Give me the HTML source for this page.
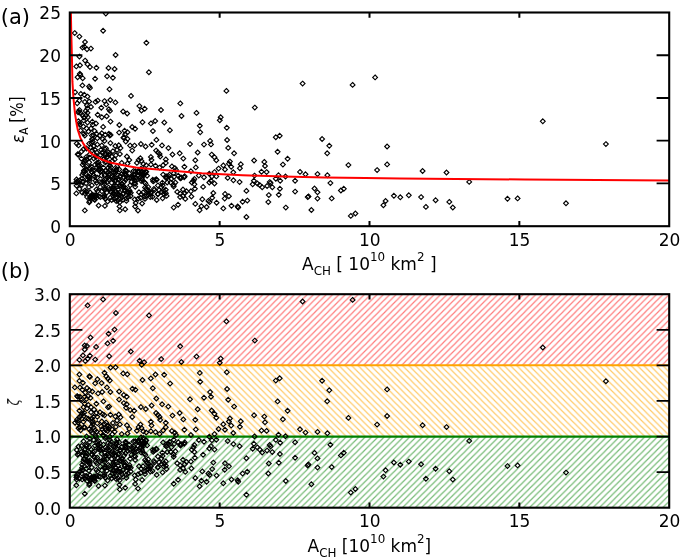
<!DOCTYPE html>
<html><head><meta charset="utf-8"><title>Figure</title><style>html,body{margin:0;padding:0;background:#fff}</style></head><body>
<svg width="685" height="559" viewBox="0 0 685 559" style="display:block;font-family:'DejaVu Sans', 'Liberation Sans', sans-serif;filter:blur(0.35px)">
<defs>
<pattern id="hr" width="6.35" height="6.35" patternUnits="userSpaceOnUse" x="4.85" y="0"><path d="M-1,7.35 L7.35,-1 M-1,1 L1,-1 M5.35,7.35 L7.35,5.35" stroke="#ff0000" stroke-opacity="0.52" stroke-width="1.15" fill="none"/></pattern>
<pattern id="hg" width="6.35" height="6.35" patternUnits="userSpaceOnUse" x="2.1" y="0"><path d="M-1,7.35 L7.35,-1 M-1,1 L1,-1 M5.35,7.35 L7.35,5.35" stroke="#008000" stroke-opacity="0.55" stroke-width="1.15" fill="none"/></pattern>
<pattern id="ho" width="6.35" height="6.35" patternUnits="userSpaceOnUse" x="5.14" y="0"><path d="M-1,-1 L7.35,7.35 M5.35,-1 L7.35,1 M-1,5.35 L1,7.35" stroke="#ffa500" stroke-opacity="0.6" stroke-width="1.15" fill="none"/></pattern>
<clipPath id="c1"><rect x="69.8" y="12.5" width="599.4" height="213.7"/></clipPath>
<clipPath id="c2"><rect x="69.8" y="294.2" width="599.4" height="213.5"/></clipPath>
<path id="d" d="M0,-2.4 L2.4,0 L0,2.4 L-2.4,0 Z" fill="none" stroke="#000" stroke-width="1.15" stroke-linejoin="miter"/>
</defs>
<rect width="685" height="559" fill="#fff"/>
<rect x="69.8" y="294.2" width="599.4000000000001" height="71.17" fill="url(#hr)"/>
<rect x="69.8" y="365.37" width="599.4000000000001" height="71.17" fill="url(#ho)"/>
<rect x="69.8" y="436.53" width="599.4000000000001" height="71.17" fill="url(#hg)"/>
<line x1="69.8" x2="669.2" y1="365.37" y2="365.37" stroke="#ffa500" stroke-width="2"/>
<line x1="69.8" x2="669.2" y1="436.53" y2="436.53" stroke="#008000" stroke-width="2.2"/>
<g clip-path="url(#c1)">
<use href="#d" x="542.8" y="121.3"/>
<use href="#d" x="605.9" y="144.1"/>
<use href="#d" x="446.5" y="172.5"/>
<use href="#d" x="469.2" y="181.9"/>
<use href="#d" x="435.6" y="200.2"/>
<use href="#d" x="449.3" y="201.9"/>
<use href="#d" x="452.8" y="207.5"/>
<use href="#d" x="507.5" y="198.8"/>
<use href="#d" x="517.6" y="198.4"/>
<use href="#d" x="566.0" y="203.3"/>
<use href="#d" x="302.6" y="83.6"/>
<use href="#d" x="352.6" y="84.9"/>
<use href="#d" x="375.1" y="77.4"/>
<use href="#d" x="322.1" y="139.0"/>
<use href="#d" x="329.3" y="145.8"/>
<use href="#d" x="327.2" y="153.3"/>
<use href="#d" x="387.1" y="146.5"/>
<use href="#d" x="387.1" y="164.4"/>
<use href="#d" x="348.4" y="165.1"/>
<use href="#d" x="377.1" y="170.1"/>
<use href="#d" x="422.6" y="171.0"/>
<use href="#d" x="300.0" y="171.9"/>
<use href="#d" x="305.5" y="174.3"/>
<use href="#d" x="317.5" y="174.1"/>
<use href="#d" x="327.4" y="175.2"/>
<use href="#d" x="330.4" y="183.1"/>
<use href="#d" x="314.5" y="188.5"/>
<use href="#d" x="317.5" y="192.3"/>
<use href="#d" x="340.9" y="190.5"/>
<use href="#d" x="343.8" y="188.8"/>
<use href="#d" x="307.7" y="197.1"/>
<use href="#d" x="308.5" y="196.4"/>
<use href="#d" x="317.5" y="198.6"/>
<use href="#d" x="331.7" y="198.4"/>
<use href="#d" x="311.4" y="210.0"/>
<use href="#d" x="350.8" y="215.9"/>
<use href="#d" x="355.4" y="213.5"/>
<use href="#d" x="385.6" y="201.0"/>
<use href="#d" x="383.4" y="205.2"/>
<use href="#d" x="393.9" y="195.8"/>
<use href="#d" x="400.3" y="197.3"/>
<use href="#d" x="408.8" y="195.3"/>
<use href="#d" x="421.1" y="197.1"/>
<use href="#d" x="425.9" y="206.9"/>
<use href="#d" x="226.4" y="90.9"/>
<use href="#d" x="254.8" y="107.6"/>
<use href="#d" x="196.5" y="112.9"/>
<use href="#d" x="219.8" y="120.2"/>
<use href="#d" x="220.7" y="117.3"/>
<use href="#d" x="199.8" y="125.7"/>
<use href="#d" x="226.8" y="127.8"/>
<use href="#d" x="200.2" y="132.3"/>
<use href="#d" x="275.8" y="137.2"/>
<use href="#d" x="279.7" y="135.8"/>
<use href="#d" x="227.1" y="140.0"/>
<use href="#d" x="210.1" y="140.9"/>
<use href="#d" x="211.0" y="144.4"/>
<use href="#d" x="204.0" y="144.6"/>
<use href="#d" x="190.0" y="144.1"/>
<use href="#d" x="228.2" y="147.9"/>
<use href="#d" x="277.6" y="151.8"/>
<use href="#d" x="197.7" y="152.5"/>
<use href="#d" x="234.1" y="153.3"/>
<use href="#d" x="211.7" y="154.6"/>
<use href="#d" x="214.5" y="157.2"/>
<use href="#d" x="216.3" y="160.2"/>
<use href="#d" x="287.6" y="158.8"/>
<use href="#d" x="195.3" y="160.2"/>
<use href="#d" x="254.1" y="160.5"/>
<use href="#d" x="264.3" y="161.9"/>
<use href="#d" x="229.9" y="161.6"/>
<use href="#d" x="228.9" y="163.7"/>
<use href="#d" x="282.9" y="164.6"/>
<use href="#d" x="240.8" y="164.2"/>
<use href="#d" x="265.0" y="166.0"/>
<use href="#d" x="223.3" y="165.4"/>
<use href="#d" x="231.2" y="166.8"/>
<use href="#d" x="239.9" y="168.2"/>
<use href="#d" x="195.8" y="167.4"/>
<use href="#d" x="218.6" y="168.6"/>
<use href="#d" x="225.0" y="169.5"/>
<use href="#d" x="261.5" y="171.7"/>
<use href="#d" x="266.6" y="172.1"/>
<use href="#d" x="233.3" y="172.3"/>
<use href="#d" x="214.5" y="172.1"/>
<use href="#d" x="278.5" y="175.2"/>
<use href="#d" x="285.5" y="176.5"/>
<use href="#d" x="254.5" y="175.6"/>
<use href="#d" x="295.1" y="180.8"/>
<use href="#d" x="280.2" y="180.8"/>
<use href="#d" x="275.8" y="178.7"/>
<use href="#d" x="227.7" y="177.9"/>
<use href="#d" x="233.4" y="180.3"/>
<use href="#d" x="239.6" y="182.1"/>
<use href="#d" x="253.9" y="180.8"/>
<use href="#d" x="257.4" y="183.5"/>
<use href="#d" x="269.7" y="182.1"/>
<use href="#d" x="270.6" y="183.1"/>
<use href="#d" x="198.8" y="175.6"/>
<use href="#d" x="204.0" y="177.3"/>
<use href="#d" x="209.3" y="173.8"/>
<use href="#d" x="211.9" y="176.5"/>
<use href="#d" x="211.0" y="180.8"/>
<use href="#d" x="193.5" y="180.8"/>
<use href="#d" x="214.5" y="183.5"/>
<use href="#d" x="190.9" y="171.2"/>
<use href="#d" x="252.7" y="184.3"/>
<use href="#d" x="259.7" y="185.1"/>
<use href="#d" x="262.2" y="187.2"/>
<use href="#d" x="267.1" y="186.0"/>
<use href="#d" x="272.3" y="187.2"/>
<use href="#d" x="279.9" y="188.7"/>
<use href="#d" x="295.1" y="191.6"/>
<use href="#d" x="246.4" y="190.9"/>
<use href="#d" x="268.8" y="195.1"/>
<use href="#d" x="278.8" y="194.8"/>
<use href="#d" x="268.3" y="202.1"/>
<use href="#d" x="247.3" y="200.6"/>
<use href="#d" x="242.6" y="201.8"/>
<use href="#d" x="237.7" y="206.5"/>
<use href="#d" x="238.2" y="207.6"/>
<use href="#d" x="231.5" y="205.8"/>
<use href="#d" x="223.3" y="208.4"/>
<use href="#d" x="246.4" y="217.0"/>
<use href="#d" x="285.8" y="207.6"/>
<use href="#d" x="225.0" y="193.9"/>
<use href="#d" x="228.9" y="196.2"/>
<use href="#d" x="224.7" y="198.6"/>
<use href="#d" x="213.3" y="193.0"/>
<use href="#d" x="212.2" y="197.8"/>
<use href="#d" x="216.6" y="202.7"/>
<use href="#d" x="208.4" y="200.9"/>
<use href="#d" x="209.6" y="202.1"/>
<use href="#d" x="206.6" y="207.0"/>
<use href="#d" x="202.3" y="199.2"/>
<use href="#d" x="201.4" y="206.2"/>
<use href="#d" x="199.6" y="210.2"/>
<use href="#d" x="195.3" y="203.9"/>
<use href="#d" x="203.1" y="186.9"/>
<use href="#d" x="209.3" y="182.5"/>
<use href="#d" x="216.3" y="176.4"/>
<use href="#d" x="194.4" y="179.0"/>
<use href="#d" x="191.8" y="182.5"/>
<use href="#d" x="194.4" y="184.3"/>
<use href="#d" x="194.9" y="188.7"/>
<use href="#d" x="190.9" y="191.3"/>
<use href="#d" x="191.4" y="196.5"/>
<use href="#d" x="146.4" y="42.8"/>
<use href="#d" x="115.6" y="55.0"/>
<use href="#d" x="114.6" y="69.0"/>
<use href="#d" x="148.9" y="72.2"/>
<use href="#d" x="112.9" y="77.8"/>
<use href="#d" x="109.5" y="89.2"/>
<use href="#d" x="131.0" y="95.9"/>
<use href="#d" x="110.3" y="100.0"/>
<use href="#d" x="115.4" y="102.4"/>
<use href="#d" x="180.3" y="103.4"/>
<use href="#d" x="139.4" y="106.1"/>
<use href="#d" x="144.7" y="108.8"/>
<use href="#d" x="141.5" y="110.5"/>
<use href="#d" x="161.0" y="110.0"/>
<use href="#d" x="123.1" y="111.5"/>
<use href="#d" x="127.2" y="113.5"/>
<use href="#d" x="110.0" y="110.9"/>
<use href="#d" x="181.5" y="116.0"/>
<use href="#d" x="110.5" y="121.6"/>
<use href="#d" x="142.5" y="122.2"/>
<use href="#d" x="155.2" y="121.0"/>
<use href="#d" x="150.9" y="123.4"/>
<use href="#d" x="164.3" y="122.5"/>
<use href="#d" x="119.3" y="125.0"/>
<use href="#d" x="132.2" y="127.0"/>
<use href="#d" x="135.1" y="128.8"/>
<use href="#d" x="152.9" y="131.1"/>
<use href="#d" x="169.9" y="130.2"/>
<use href="#d" x="124.6" y="130.8"/>
<use href="#d" x="127.5" y="132.2"/>
<use href="#d" x="119.1" y="132.6"/>
<use href="#d" x="125.2" y="134.3"/>
<use href="#d" x="110.6" y="134.9"/>
<use href="#d" x="123.4" y="137.8"/>
<use href="#d" x="127.5" y="138.9"/>
<use href="#d" x="125.8" y="141.6"/>
<use href="#d" x="156.4" y="139.9"/>
<use href="#d" x="140.9" y="144.0"/>
<use href="#d" x="145.6" y="146.5"/>
<use href="#d" x="151.7" y="144.8"/>
<use href="#d" x="162.0" y="145.4"/>
<use href="#d" x="134.5" y="145.6"/>
<use href="#d" x="130.1" y="145.6"/>
<use href="#d" x="132.2" y="150.6"/>
<use href="#d" x="168.4" y="148.1"/>
<use href="#d" x="110.4" y="143.1"/>
<use href="#d" x="115.3" y="146.0"/>
<use href="#d" x="118.8" y="145.3"/>
<use href="#d" x="120.5" y="148.1"/>
<use href="#d" x="117.0" y="150.0"/>
<use href="#d" x="112.9" y="151.2"/>
<use href="#d" x="119.9" y="154.1"/>
<use href="#d" x="115.8" y="155.3"/>
<use href="#d" x="156.1" y="150.6"/>
<use href="#d" x="157.9" y="152.4"/>
<use href="#d" x="159.6" y="154.1"/>
<use href="#d" x="160.2" y="156.5"/>
<use href="#d" x="172.5" y="154.5"/>
<use href="#d" x="179.7" y="153.3"/>
<use href="#d" x="183.3" y="158.6"/>
<use href="#d" x="126.9" y="156.5"/>
<use href="#d" x="129.3" y="160.0"/>
<use href="#d" x="150.9" y="157.0"/>
<use href="#d" x="151.5" y="160.0"/>
<use href="#d" x="140.4" y="158.2"/>
<use href="#d" x="138.6" y="160.0"/>
<use href="#d" x="141.5" y="161.1"/>
<use href="#d" x="136.9" y="162.9"/>
<use href="#d" x="143.3" y="164.0"/>
<use href="#d" x="146.2" y="165.2"/>
<use href="#d" x="150.9" y="164.6"/>
<use href="#d" x="155.5" y="165.8"/>
<use href="#d" x="159.6" y="167.6"/>
<use href="#d" x="163.1" y="165.2"/>
<use href="#d" x="165.8" y="159.4"/>
<use href="#d" x="165.8" y="162.9"/>
<use href="#d" x="171.9" y="166.4"/>
<use href="#d" x="174.8" y="168.1"/>
<use href="#d" x="176.0" y="169.9"/>
<use href="#d" x="184.4" y="166.7"/>
<use href="#d" x="111.8" y="156.5"/>
<use href="#d" x="114.7" y="159.4"/>
<use href="#d" x="112.3" y="161.1"/>
<use href="#d" x="121.7" y="162.9"/>
<use href="#d" x="127.5" y="163.5"/>
<use href="#d" x="117.0" y="166.4"/>
<use href="#d" x="111.2" y="167.6"/>
<use href="#d" x="126.4" y="171.1"/>
<use href="#d" x="125.2" y="173.4"/>
<use href="#d" x="129.3" y="173.4"/>
<use href="#d" x="133.4" y="171.1"/>
<use href="#d" x="138.0" y="172.2"/>
<use href="#d" x="141.5" y="174.6"/>
<use href="#d" x="140.4" y="176.9"/>
<use href="#d" x="147.1" y="175.7"/>
<use href="#d" x="163.1" y="174.6"/>
<use href="#d" x="166.1" y="176.3"/>
<use href="#d" x="169.6" y="174.6"/>
<use href="#d" x="173.7" y="173.4"/>
<use href="#d" x="178.3" y="175.7"/>
<use href="#d" x="181.2" y="177.5"/>
<use href="#d" x="184.7" y="176.3"/>
<use href="#d" x="117.0" y="174.6"/>
<use href="#d" x="113.5" y="172.2"/>
<use href="#d" x="119.9" y="176.9"/>
<use href="#d" x="112.3" y="176.9"/>
<use href="#d" x="127.5" y="178.1"/>
<use href="#d" x="166.1" y="177.8"/>
<use href="#d" x="168.4" y="176.1"/>
<use href="#d" x="171.3" y="179.0"/>
<use href="#d" x="174.2" y="176.7"/>
<use href="#d" x="180.1" y="177.8"/>
<use href="#d" x="180.6" y="178.4"/>
<use href="#d" x="184.2" y="177.3"/>
<use href="#d" x="167.2" y="182.5"/>
<use href="#d" x="170.7" y="182.5"/>
<use href="#d" x="173.7" y="184.9"/>
<use href="#d" x="175.4" y="182.5"/>
<use href="#d" x="173.7" y="186.6"/>
<use href="#d" x="177.2" y="191.9"/>
<use href="#d" x="180.1" y="193.6"/>
<use href="#d" x="183.0" y="189.5"/>
<use href="#d" x="184.7" y="193.0"/>
<use href="#d" x="180.1" y="197.1"/>
<use href="#d" x="183.0" y="196.0"/>
<use href="#d" x="185.3" y="198.9"/>
<use href="#d" x="186.5" y="191.3"/>
<use href="#d" x="178.1" y="204.7"/>
<use href="#d" x="173.7" y="207.6"/>
<use href="#d" x="119.5" y="206.4"/>
<use href="#d" x="119.8" y="210.4"/>
<use href="#d" x="125.2" y="209.2"/>
<use href="#d" x="135.1" y="206.5"/>
<use href="#d" x="138.0" y="210.5"/>
<use href="#d" x="135.7" y="203.0"/>
<use href="#d" x="142.1" y="203.5"/>
<use href="#d" x="156.7" y="200.0"/>
<use href="#d" x="162.6" y="198.3"/>
<use href="#d" x="166.6" y="195.9"/>
<use href="#d" x="163.7" y="193.6"/>
<use href="#d" x="161.4" y="187.2"/>
<use href="#d" x="157.9" y="185.4"/>
<use href="#d" x="153.2" y="181.4"/>
<use href="#d" x="150.9" y="193.0"/>
<use href="#d" x="150.3" y="197.1"/>
<use href="#d" x="154.4" y="190.1"/>
<use href="#d" x="157.9" y="194.2"/>
<use href="#d" x="159.1" y="190.1"/>
<use href="#d" x="145.0" y="196.5"/>
<use href="#d" x="145.0" y="198.9"/>
<use href="#d" x="105.8" y="13.6"/>
<use href="#d" x="103.1" y="30.7"/>
<use href="#d" x="74.7" y="33.1"/>
<use href="#d" x="79.4" y="36.6"/>
<use href="#d" x="85.0" y="42.0"/>
<use href="#d" x="82.5" y="47.6"/>
<use href="#d" x="84.3" y="46.7"/>
<use href="#d" x="87.0" y="49.3"/>
<use href="#d" x="90.9" y="48.6"/>
<use href="#d" x="79.4" y="56.6"/>
<use href="#d" x="85.1" y="60.6"/>
<use href="#d" x="87.5" y="64.2"/>
<use href="#d" x="90.0" y="67.1"/>
<use href="#d" x="76.3" y="66.4"/>
<use href="#d" x="80.0" y="65.3"/>
<use href="#d" x="96.4" y="67.8"/>
<use href="#d" x="108.5" y="68.0"/>
<use href="#d" x="79.9" y="73.8"/>
<use href="#d" x="77.6" y="77.2"/>
<use href="#d" x="80.3" y="75.1"/>
<use href="#d" x="82.7" y="78.2"/>
<use href="#d" x="95.1" y="78.7"/>
<use href="#d" x="107.1" y="76.3"/>
<use href="#d" x="82.4" y="85.4"/>
<use href="#d" x="89.1" y="86.5"/>
<use href="#d" x="90.0" y="87.9"/>
<use href="#d" x="80.8" y="93.9"/>
<use href="#d" x="84.3" y="94.8"/>
<use href="#d" x="87.5" y="96.6"/>
<use href="#d" x="79.4" y="100.6"/>
<use href="#d" x="77.2" y="103.3"/>
<use href="#d" x="84.8" y="101.9"/>
<use href="#d" x="89.2" y="101.5"/>
<use href="#d" x="95.5" y="101.9"/>
<use href="#d" x="97.7" y="100.6"/>
<use href="#d" x="104.5" y="101.1"/>
<use href="#d" x="106.2" y="104.4"/>
<use href="#d" x="101.3" y="107.7"/>
<use href="#d" x="87.0" y="105.6"/>
<use href="#d" x="91.0" y="106.9"/>
<use href="#d" x="87.5" y="108.3"/>
<use href="#d" x="108.9" y="109.2"/>
<use href="#d" x="79.4" y="110.1"/>
<use href="#d" x="78.1" y="112.3"/>
<use href="#d" x="80.8" y="113.2"/>
<use href="#d" x="85.7" y="111.0"/>
<use href="#d" x="87.5" y="112.8"/>
<use href="#d" x="97.7" y="114.7"/>
<use href="#d" x="101.8" y="117.2"/>
<use href="#d" x="106.7" y="116.2"/>
<use href="#d" x="87.9" y="117.2"/>
<use href="#d" x="86.1" y="115.4"/>
<use href="#d" x="78.5" y="121.2"/>
<use href="#d" x="87.5" y="122.6"/>
<use href="#d" x="92.4" y="121.7"/>
<use href="#d" x="96.0" y="123.5"/>
<use href="#d" x="92.8" y="124.8"/>
<use href="#d" x="79.9" y="124.8"/>
<use href="#d" x="83.4" y="126.6"/>
<use href="#d" x="86.6" y="128.4"/>
<use href="#d" x="91.0" y="128.4"/>
<use href="#d" x="103.1" y="126.9"/>
<use href="#d" x="94.6" y="131.1"/>
<use href="#d" x="88.4" y="131.5"/>
<use href="#d" x="83.9" y="133.8"/>
<use href="#d" x="84.8" y="135.6"/>
<use href="#d" x="91.9" y="135.6"/>
<use href="#d" x="96.4" y="133.8"/>
<use href="#d" x="100.0" y="135.6"/>
<use href="#d" x="101.8" y="133.3"/>
<use href="#d" x="105.3" y="134.7"/>
<use href="#d" x="108.9" y="133.8"/>
<use href="#d" x="109.8" y="135.6"/>
<use href="#d" x="124.1" y="137.3"/>
<use href="#d" x="92.8" y="139.1"/>
<use href="#d" x="97.3" y="138.2"/>
<use href="#d" x="102.7" y="139.1"/>
<use href="#d" x="104.5" y="140.9"/>
<use href="#d" x="89.2" y="143.6"/>
<use href="#d" x="92.8" y="141.8"/>
<use href="#d" x="97.3" y="144.5"/>
<use href="#d" x="101.8" y="145.4"/>
<use href="#d" x="76.7" y="143.6"/>
<use href="#d" x="78.5" y="145.4"/>
<use href="#d" x="84.8" y="210.4"/>
<use href="#d" x="76.3" y="193.4"/>
<use href="#d" x="98.6" y="205.5"/>
<use href="#d" x="104.9" y="205.9"/>
<use href="#d" x="89.2" y="202.4"/>
<use href="#d" x="89.6" y="201.2"/>
<use href="#d" x="107.6" y="201.5"/>
<use href="#d" x="93.3" y="198.3"/>
<use href="#d" x="79.4" y="188.9"/>
<use href="#d" x="114.3" y="188.5"/>
<use href="#d" x="117.9" y="200.6"/>
<use href="#d" x="81.8" y="185.0"/>
<use href="#d" x="78.5" y="154.7"/>
<use href="#d" x="76.9" y="182.5"/>
<use href="#d" x="77.7" y="154.3"/>
<use href="#d" x="76.5" y="179.4"/>
<use href="#d" x="81.5" y="151.6"/>
<use href="#d" x="76.6" y="185.7"/>
<use href="#d" x="81.4" y="158.7"/>
<use href="#d" x="79.7" y="180.4"/>
<use href="#d" x="76.4" y="181.9"/>
<use href="#d" x="77.6" y="181.0"/>
<use href="#d" x="103.5" y="167.7"/>
<use href="#d" x="98.0" y="165.0"/>
<use href="#d" x="94.7" y="170.4"/>
<use href="#d" x="100.4" y="171.6"/>
<use href="#d" x="94.9" y="195.6"/>
<use href="#d" x="87.1" y="197.1"/>
<use href="#d" x="93.8" y="175.4"/>
<use href="#d" x="99.8" y="182.1"/>
<use href="#d" x="93.6" y="146.1"/>
<use href="#d" x="101.9" y="182.2"/>
<use href="#d" x="101.1" y="149.7"/>
<use href="#d" x="98.6" y="162.2"/>
<use href="#d" x="105.8" y="178.6"/>
<use href="#d" x="105.6" y="155.0"/>
<use href="#d" x="95.0" y="197.2"/>
<use href="#d" x="95.6" y="155.4"/>
<use href="#d" x="91.1" y="166.7"/>
<use href="#d" x="86.6" y="174.6"/>
<use href="#d" x="94.5" y="199.5"/>
<use href="#d" x="104.3" y="182.0"/>
<use href="#d" x="94.9" y="199.7"/>
<use href="#d" x="106.8" y="192.6"/>
<use href="#d" x="89.7" y="178.8"/>
<use href="#d" x="104.3" y="195.5"/>
<use href="#d" x="86.1" y="191.5"/>
<use href="#d" x="83.9" y="170.6"/>
<use href="#d" x="104.8" y="175.5"/>
<use href="#d" x="98.8" y="196.2"/>
<use href="#d" x="105.0" y="198.5"/>
<use href="#d" x="82.2" y="175.0"/>
<use href="#d" x="95.0" y="149.8"/>
<use href="#d" x="108.4" y="154.8"/>
<use href="#d" x="100.5" y="155.1"/>
<use href="#d" x="106.0" y="148.3"/>
<use href="#d" x="89.7" y="157.7"/>
<use href="#d" x="87.5" y="176.5"/>
<use href="#d" x="86.7" y="191.9"/>
<use href="#d" x="104.6" y="183.9"/>
<use href="#d" x="86.6" y="148.5"/>
<use href="#d" x="104.6" y="149.1"/>
<use href="#d" x="92.1" y="150.4"/>
<use href="#d" x="82.6" y="182.2"/>
<use href="#d" x="101.5" y="175.5"/>
<use href="#d" x="85.8" y="168.9"/>
<use href="#d" x="109.8" y="162.7"/>
<use href="#d" x="107.9" y="177.6"/>
<use href="#d" x="82.7" y="164.7"/>
<use href="#d" x="89.8" y="154.3"/>
<use href="#d" x="84.0" y="170.9"/>
<use href="#d" x="93.7" y="158.5"/>
<use href="#d" x="96.6" y="182.9"/>
<use href="#d" x="90.9" y="196.9"/>
<use href="#d" x="86.5" y="159.3"/>
<use href="#d" x="91.9" y="172.1"/>
<use href="#d" x="105.2" y="153.4"/>
<use href="#d" x="88.5" y="177.1"/>
<use href="#d" x="89.7" y="180.6"/>
<use href="#d" x="107.8" y="172.4"/>
<use href="#d" x="100.2" y="187.1"/>
<use href="#d" x="108.5" y="187.6"/>
<use href="#d" x="90.1" y="192.4"/>
<use href="#d" x="101.9" y="191.3"/>
<use href="#d" x="108.8" y="175.3"/>
<use href="#d" x="104.9" y="189.9"/>
<use href="#d" x="103.3" y="159.0"/>
<use href="#d" x="88.9" y="187.1"/>
<use href="#d" x="94.9" y="176.7"/>
<use href="#d" x="84.9" y="193.3"/>
<use href="#d" x="104.9" y="189.4"/>
<use href="#d" x="98.3" y="166.0"/>
<use href="#d" x="96.4" y="189.4"/>
<use href="#d" x="90.7" y="198.0"/>
<use href="#d" x="97.2" y="177.6"/>
<use href="#d" x="98.8" y="169.3"/>
<use href="#d" x="109.6" y="154.0"/>
<use href="#d" x="102.5" y="171.6"/>
<use href="#d" x="100.0" y="168.7"/>
<use href="#d" x="83.7" y="162.9"/>
<use href="#d" x="109.1" y="174.0"/>
<use href="#d" x="86.5" y="166.6"/>
<use href="#d" x="92.0" y="196.5"/>
<use href="#d" x="96.7" y="152.4"/>
<use href="#d" x="86.2" y="157.1"/>
<use href="#d" x="83.5" y="149.2"/>
<use href="#d" x="108.6" y="152.3"/>
<use href="#d" x="85.3" y="160.8"/>
<use href="#d" x="83.3" y="172.9"/>
<use href="#d" x="105.0" y="188.0"/>
<use href="#d" x="102.1" y="152.7"/>
<use href="#d" x="95.6" y="180.8"/>
<use href="#d" x="105.3" y="162.4"/>
<use href="#d" x="100.6" y="171.8"/>
<use href="#d" x="103.7" y="159.5"/>
<use href="#d" x="84.9" y="160.6"/>
<use href="#d" x="108.2" y="167.8"/>
<use href="#d" x="107.0" y="182.2"/>
<use href="#d" x="82.2" y="192.5"/>
<use href="#d" x="86.6" y="169.7"/>
<use href="#d" x="108.7" y="179.6"/>
<use href="#d" x="100.4" y="197.1"/>
<use href="#d" x="107.6" y="156.7"/>
<use href="#d" x="89.9" y="197.1"/>
<use href="#d" x="82.8" y="181.4"/>
<use href="#d" x="104.2" y="196.7"/>
<use href="#d" x="95.9" y="157.1"/>
<use href="#d" x="89.2" y="162.3"/>
<use href="#d" x="86.1" y="183.2"/>
<use href="#d" x="93.2" y="170.6"/>
<use href="#d" x="94.9" y="164.9"/>
<use href="#d" x="82.1" y="178.6"/>
<use href="#d" x="89.7" y="177.0"/>
<use href="#d" x="100.0" y="165.4"/>
<use href="#d" x="91.6" y="195.2"/>
<use href="#d" x="105.5" y="170.9"/>
<use href="#d" x="109.7" y="189.2"/>
<use href="#d" x="96.0" y="195.3"/>
<use href="#d" x="93.9" y="195.2"/>
<use href="#d" x="97.2" y="162.7"/>
<use href="#d" x="104.6" y="179.4"/>
<use href="#d" x="91.8" y="172.0"/>
<use href="#d" x="106.0" y="161.5"/>
<use href="#d" x="91.8" y="185.3"/>
<use href="#d" x="109.8" y="165.4"/>
<use href="#d" x="87.4" y="179.7"/>
<use href="#d" x="97.6" y="191.3"/>
<use href="#d" x="85.0" y="190.6"/>
<use href="#d" x="89.6" y="168.1"/>
<use href="#d" x="98.9" y="170.3"/>
<use href="#d" x="142.9" y="174.5"/>
<use href="#d" x="119.9" y="185.5"/>
<use href="#d" x="118.7" y="194.5"/>
<use href="#d" x="118.9" y="195.0"/>
<use href="#d" x="114.0" y="177.7"/>
<use href="#d" x="126.5" y="198.4"/>
<use href="#d" x="125.5" y="179.8"/>
<use href="#d" x="123.8" y="177.6"/>
<use href="#d" x="126.4" y="200.9"/>
<use href="#d" x="130.8" y="192.7"/>
<use href="#d" x="124.7" y="190.9"/>
<use href="#d" x="143.1" y="173.8"/>
<use href="#d" x="130.2" y="185.2"/>
<use href="#d" x="113.6" y="186.6"/>
<use href="#d" x="113.0" y="179.0"/>
<use href="#d" x="137.9" y="171.7"/>
<use href="#d" x="116.6" y="169.0"/>
<use href="#d" x="113.9" y="172.8"/>
<use href="#d" x="118.2" y="179.9"/>
<use href="#d" x="148.4" y="194.8"/>
<use href="#d" x="124.7" y="189.9"/>
<use href="#d" x="120.9" y="195.4"/>
<use href="#d" x="139.0" y="192.2"/>
<use href="#d" x="142.8" y="173.3"/>
<use href="#d" x="116.0" y="191.3"/>
<use href="#d" x="135.2" y="183.9"/>
<use href="#d" x="148.6" y="190.8"/>
<use href="#d" x="115.2" y="185.8"/>
<use href="#d" x="129.5" y="190.4"/>
<use href="#d" x="111.6" y="182.9"/>
<use href="#d" x="146.7" y="195.5"/>
<use href="#d" x="125.0" y="173.5"/>
<use href="#d" x="134.3" y="183.2"/>
<use href="#d" x="148.8" y="193.2"/>
<use href="#d" x="134.7" y="199.4"/>
<use href="#d" x="147.1" y="190.0"/>
<use href="#d" x="133.3" y="178.6"/>
<use href="#d" x="119.7" y="192.5"/>
<use href="#d" x="119.2" y="169.4"/>
<use href="#d" x="138.1" y="198.7"/>
<use href="#d" x="145.7" y="171.5"/>
<use href="#d" x="146.3" y="171.7"/>
<use href="#d" x="141.0" y="168.7"/>
<use href="#d" x="115.4" y="173.2"/>
<use href="#d" x="121.8" y="186.2"/>
<use href="#d" x="146.4" y="188.5"/>
<use href="#d" x="115.0" y="180.8"/>
<use href="#d" x="110.3" y="169.3"/>
<use href="#d" x="127.2" y="192.1"/>
<use href="#d" x="120.0" y="185.9"/>
<use href="#d" x="114.1" y="199.0"/>
<use href="#d" x="125.7" y="175.6"/>
<use href="#d" x="129.9" y="177.8"/>
<use href="#d" x="121.7" y="173.8"/>
<use href="#d" x="141.2" y="181.1"/>
<use href="#d" x="148.2" y="187.1"/>
<use href="#d" x="116.2" y="201.1"/>
<use href="#d" x="144.4" y="182.3"/>
<use href="#d" x="128.2" y="197.1"/>
<use href="#d" x="128.0" y="192.4"/>
<use href="#d" x="117.8" y="182.8"/>
<use href="#d" x="116.1" y="170.4"/>
<use href="#d" x="112.7" y="188.5"/>
<use href="#d" x="141.7" y="178.6"/>
<use href="#d" x="129.1" y="192.2"/>
<use href="#d" x="143.5" y="175.7"/>
<use href="#d" x="110.6" y="191.8"/>
<use href="#d" x="124.2" y="181.7"/>
<use href="#d" x="113.4" y="193.8"/>
<use href="#d" x="111.7" y="200.1"/>
<use href="#d" x="135.3" y="171.3"/>
<use href="#d" x="136.8" y="180.0"/>
<use href="#d" x="143.3" y="169.5"/>
<use href="#d" x="123.0" y="199.8"/>
<use href="#d" x="116.2" y="198.4"/>
<use href="#d" x="145.0" y="187.4"/>
<use href="#d" x="115.7" y="180.2"/>
<use href="#d" x="125.6" y="170.6"/>
<use href="#d" x="138.3" y="171.0"/>
<use href="#d" x="142.2" y="179.9"/>
<use href="#d" x="134.8" y="180.5"/>
<use href="#d" x="132.6" y="176.6"/>
<use href="#d" x="142.0" y="171.6"/>
<use href="#d" x="126.4" y="194.9"/>
<use href="#d" x="137.9" y="175.6"/>
<use href="#d" x="116.1" y="170.9"/>
<use href="#d" x="132.9" y="176.8"/>
<use href="#d" x="145.2" y="173.5"/>
<use href="#d" x="123.3" y="187.6"/>
<use href="#d" x="125.3" y="187.7"/>
<use href="#d" x="122.2" y="184.1"/>
<use href="#d" x="125.6" y="175.1"/>
<use href="#d" x="135.2" y="186.8"/>
<use href="#d" x="119.2" y="179.4"/>
<use href="#d" x="141.3" y="194.3"/>
<use href="#d" x="110.4" y="197.6"/>
<use href="#d" x="121.4" y="183.9"/>
<use href="#d" x="116.2" y="193.9"/>
<use href="#d" x="125.5" y="174.7"/>
<use href="#d" x="125.3" y="170.3"/>
<use href="#d" x="122.1" y="197.6"/>
<use href="#d" x="131.4" y="182.1"/>
<use href="#d" x="143.4" y="174.5"/>
<use href="#d" x="119.6" y="202.4"/>
<use href="#d" x="113.2" y="193.0"/>
<use href="#d" x="136.3" y="177.9"/>
<use href="#d" x="123.1" y="193.9"/>
<use href="#d" x="133.6" y="175.2"/>
<use href="#d" x="118.1" y="189.7"/>
<use href="#d" x="130.7" y="196.0"/>
<use href="#d" x="145.4" y="183.3"/>
<use href="#d" x="143.1" y="192.4"/>
<use href="#d" x="120.4" y="176.1"/>
<use href="#d" x="140.6" y="197.9"/>
<use href="#d" x="112.8" y="195.6"/>
<use href="#d" x="150.8" y="192.5"/>
<use href="#d" x="152.8" y="179.7"/>
<use href="#d" x="164.3" y="191.3"/>
<use href="#d" x="165.8" y="189.8"/>
<use href="#d" x="153.9" y="188.9"/>
<use href="#d" x="152.5" y="196.8"/>
<use href="#d" x="157.8" y="194.0"/>
<use href="#d" x="165.9" y="193.2"/>
<use href="#d" x="162.6" y="185.3"/>
<use href="#d" x="156.7" y="179.7"/>
<use href="#d" x="154.2" y="180.4"/>
<use href="#d" x="166.4" y="178.1"/>
<use href="#d" x="162.4" y="182.7"/>
<use href="#d" x="161.5" y="191.7"/>
<use href="#d" x="156.2" y="179.2"/>
<use href="#d" x="93.5" y="135.1"/>
<use href="#d" x="83.7" y="120.6"/>
<use href="#d" x="78.8" y="111.7"/>
<use href="#d" x="79.5" y="123.1"/>
<use href="#d" x="91.6" y="143.2"/>
<use href="#d" x="92.0" y="139.2"/>
<use href="#d" x="80.6" y="130.5"/>
<use href="#d" x="75.1" y="92.2"/>
<use href="#d" x="90.9" y="147.6"/>
<use href="#d" x="84.1" y="117.5"/>
<use href="#d" x="82.5" y="115.2"/>
<path d="M70.9,13.0 L71.2,30.0 L71.6,45.0 L72.0,60.0 L72.4,81.4 L73.5,98.6 L75.0,113.6 L76.7,124.3 L77.8,130.0 L80.4,137.9 L83.0,143.1 L86.5,148.4 L90.9,153.2 L96.1,156.7 L102.3,159.8 L111.0,162.8 L119.8,164.6 L128.6,166.3 L136.0,167.5 L140.0,167.9 L160.9,169.8 L201.8,173.3 L242.6,175.3 L283.5,176.6 L324.4,177.4 L365.3,178.0 L400.0,178.4 L524.8,179.5 L669.0,180.4" fill="none" stroke="#ff0000" stroke-width="2" stroke-linejoin="round"/>
</g>
<g clip-path="url(#c2)">
<use href="#d" x="542.8" y="347.5"/>
<use href="#d" x="605.9" y="381.2"/>
<use href="#d" x="446.5" y="427.1"/>
<use href="#d" x="469.2" y="440.9"/>
<use href="#d" x="435.6" y="468.7"/>
<use href="#d" x="449.3" y="471.2"/>
<use href="#d" x="452.8" y="479.6"/>
<use href="#d" x="507.5" y="466.1"/>
<use href="#d" x="517.6" y="465.4"/>
<use href="#d" x="566.0" y="472.6"/>
<use href="#d" x="302.6" y="301.5"/>
<use href="#d" x="352.6" y="299.9"/>
<use href="#d" x="322.1" y="380.7"/>
<use href="#d" x="329.3" y="390.3"/>
<use href="#d" x="327.2" y="401.3"/>
<use href="#d" x="387.1" y="389.4"/>
<use href="#d" x="387.1" y="416.0"/>
<use href="#d" x="348.4" y="417.9"/>
<use href="#d" x="377.1" y="424.6"/>
<use href="#d" x="422.6" y="425.2"/>
<use href="#d" x="300.0" y="429.3"/>
<use href="#d" x="305.5" y="432.6"/>
<use href="#d" x="317.5" y="431.9"/>
<use href="#d" x="327.4" y="433.3"/>
<use href="#d" x="330.4" y="444.7"/>
<use href="#d" x="314.5" y="452.9"/>
<use href="#d" x="317.5" y="458.4"/>
<use href="#d" x="340.9" y="455.4"/>
<use href="#d" x="343.8" y="452.8"/>
<use href="#d" x="307.7" y="465.5"/>
<use href="#d" x="308.5" y="464.5"/>
<use href="#d" x="317.5" y="467.6"/>
<use href="#d" x="331.7" y="467.1"/>
<use href="#d" x="311.4" y="484.2"/>
<use href="#d" x="350.8" y="492.6"/>
<use href="#d" x="355.4" y="489.0"/>
<use href="#d" x="385.6" y="470.3"/>
<use href="#d" x="383.4" y="476.6"/>
<use href="#d" x="393.9" y="462.5"/>
<use href="#d" x="400.3" y="464.7"/>
<use href="#d" x="408.8" y="461.6"/>
<use href="#d" x="421.1" y="464.2"/>
<use href="#d" x="425.9" y="478.8"/>
<use href="#d" x="226.4" y="321.4"/>
<use href="#d" x="254.8" y="340.6"/>
<use href="#d" x="196.5" y="356.6"/>
<use href="#d" x="219.8" y="362.7"/>
<use href="#d" x="220.7" y="358.6"/>
<use href="#d" x="199.8" y="372.9"/>
<use href="#d" x="226.8" y="372.2"/>
<use href="#d" x="200.2" y="381.7"/>
<use href="#d" x="275.8" y="380.6"/>
<use href="#d" x="279.7" y="378.3"/>
<use href="#d" x="227.1" y="389.0"/>
<use href="#d" x="210.1" y="392.1"/>
<use href="#d" x="211.0" y="396.7"/>
<use href="#d" x="204.0" y="397.7"/>
<use href="#d" x="190.0" y="399.3"/>
<use href="#d" x="228.2" y="399.7"/>
<use href="#d" x="277.6" y="401.4"/>
<use href="#d" x="197.7" y="409.2"/>
<use href="#d" x="234.1" y="406.6"/>
<use href="#d" x="211.7" y="410.5"/>
<use href="#d" x="214.5" y="413.8"/>
<use href="#d" x="216.3" y="417.7"/>
<use href="#d" x="287.6" y="410.8"/>
<use href="#d" x="195.3" y="419.8"/>
<use href="#d" x="254.1" y="415.2"/>
<use href="#d" x="264.3" y="416.6"/>
<use href="#d" x="229.9" y="418.5"/>
<use href="#d" x="228.9" y="421.5"/>
<use href="#d" x="282.9" y="419.3"/>
<use href="#d" x="240.8" y="421.2"/>
<use href="#d" x="265.0" y="422.3"/>
<use href="#d" x="223.3" y="424.2"/>
<use href="#d" x="231.2" y="425.6"/>
<use href="#d" x="239.9" y="426.8"/>
<use href="#d" x="195.8" y="429.4"/>
<use href="#d" x="218.6" y="429.0"/>
<use href="#d" x="225.0" y="429.7"/>
<use href="#d" x="261.5" y="430.6"/>
<use href="#d" x="266.6" y="430.9"/>
<use href="#d" x="233.3" y="433.0"/>
<use href="#d" x="214.5" y="434.1"/>
<use href="#d" x="278.5" y="434.8"/>
<use href="#d" x="285.5" y="436.3"/>
<use href="#d" x="254.5" y="436.4"/>
<use href="#d" x="295.1" y="442.3"/>
<use href="#d" x="280.2" y="442.7"/>
<use href="#d" x="275.8" y="439.9"/>
<use href="#d" x="227.7" y="441.1"/>
<use href="#d" x="233.4" y="444.1"/>
<use href="#d" x="239.6" y="446.2"/>
<use href="#d" x="253.9" y="443.8"/>
<use href="#d" x="257.4" y="447.4"/>
<use href="#d" x="269.7" y="445.0"/>
<use href="#d" x="270.6" y="446.4"/>
<use href="#d" x="198.8" y="440.0"/>
<use href="#d" x="204.0" y="441.8"/>
<use href="#d" x="209.3" y="436.7"/>
<use href="#d" x="211.9" y="440.2"/>
<use href="#d" x="211.0" y="446.1"/>
<use href="#d" x="193.5" y="447.4"/>
<use href="#d" x="214.5" y="449.6"/>
<use href="#d" x="190.9" y="435.0"/>
<use href="#d" x="252.7" y="448.7"/>
<use href="#d" x="259.7" y="449.6"/>
<use href="#d" x="262.2" y="452.5"/>
<use href="#d" x="267.1" y="450.6"/>
<use href="#d" x="272.3" y="452.1"/>
<use href="#d" x="279.9" y="454.0"/>
<use href="#d" x="295.1" y="457.8"/>
<use href="#d" x="246.4" y="458.2"/>
<use href="#d" x="268.8" y="463.5"/>
<use href="#d" x="278.8" y="462.8"/>
<use href="#d" x="268.3" y="473.5"/>
<use href="#d" x="247.3" y="471.8"/>
<use href="#d" x="242.6" y="473.6"/>
<use href="#d" x="237.7" y="480.3"/>
<use href="#d" x="238.2" y="481.8"/>
<use href="#d" x="231.5" y="479.5"/>
<use href="#d" x="223.3" y="483.3"/>
<use href="#d" x="246.4" y="494.8"/>
<use href="#d" x="285.8" y="481.0"/>
<use href="#d" x="225.0" y="463.3"/>
<use href="#d" x="228.9" y="466.3"/>
<use href="#d" x="224.7" y="469.8"/>
<use href="#d" x="213.3" y="462.6"/>
<use href="#d" x="212.2" y="469.1"/>
<use href="#d" x="216.6" y="475.6"/>
<use href="#d" x="208.4" y="473.5"/>
<use href="#d" x="209.6" y="475.0"/>
<use href="#d" x="206.6" y="481.8"/>
<use href="#d" x="202.3" y="471.4"/>
<use href="#d" x="201.4" y="480.8"/>
<use href="#d" x="199.6" y="486.3"/>
<use href="#d" x="195.3" y="478.0"/>
<use href="#d" x="203.1" y="454.8"/>
<use href="#d" x="209.3" y="448.5"/>
<use href="#d" x="216.3" y="439.8"/>
<use href="#d" x="194.4" y="445.0"/>
<use href="#d" x="191.8" y="449.8"/>
<use href="#d" x="194.4" y="452.0"/>
<use href="#d" x="194.9" y="457.8"/>
<use href="#d" x="190.9" y="461.6"/>
<use href="#d" x="191.4" y="468.4"/>
<use href="#d" x="132.2" y="417.0"/>
<use href="#d" x="110.4" y="414.7"/>
<use href="#d" x="115.3" y="416.4"/>
<use href="#d" x="118.8" y="414.5"/>
<use href="#d" x="120.5" y="417.3"/>
<use href="#d" x="117.0" y="420.5"/>
<use href="#d" x="112.9" y="423.0"/>
<use href="#d" x="119.9" y="424.4"/>
<use href="#d" x="115.8" y="426.9"/>
<use href="#d" x="156.1" y="413.0"/>
<use href="#d" x="157.9" y="415.0"/>
<use href="#d" x="159.6" y="416.9"/>
<use href="#d" x="160.2" y="419.9"/>
<use href="#d" x="172.5" y="415.6"/>
<use href="#d" x="179.7" y="413.0"/>
<use href="#d" x="183.3" y="419.4"/>
<use href="#d" x="126.9" y="425.3"/>
<use href="#d" x="129.3" y="428.9"/>
<use href="#d" x="150.9" y="421.8"/>
<use href="#d" x="151.5" y="425.4"/>
<use href="#d" x="140.4" y="424.6"/>
<use href="#d" x="138.6" y="427.1"/>
<use href="#d" x="141.5" y="428.0"/>
<use href="#d" x="136.9" y="430.8"/>
<use href="#d" x="143.3" y="431.4"/>
<use href="#d" x="146.2" y="432.5"/>
<use href="#d" x="150.9" y="431.2"/>
<use href="#d" x="155.5" y="432.1"/>
<use href="#d" x="159.6" y="433.9"/>
<use href="#d" x="163.1" y="430.5"/>
<use href="#d" x="165.8" y="422.8"/>
<use href="#d" x="165.8" y="427.2"/>
<use href="#d" x="171.9" y="431.0"/>
<use href="#d" x="174.8" y="432.8"/>
<use href="#d" x="176.0" y="435.0"/>
<use href="#d" x="184.4" y="429.8"/>
<use href="#d" x="111.8" y="429.3"/>
<use href="#d" x="114.7" y="431.8"/>
<use href="#d" x="112.3" y="434.3"/>
<use href="#d" x="121.7" y="434.1"/>
<use href="#d" x="127.5" y="433.5"/>
<use href="#d" x="117.0" y="439.2"/>
<use href="#d" x="111.2" y="441.9"/>
<use href="#d" x="126.4" y="442.7"/>
<use href="#d" x="125.2" y="445.6"/>
<use href="#d" x="129.3" y="444.8"/>
<use href="#d" x="133.4" y="441.4"/>
<use href="#d" x="138.0" y="442.0"/>
<use href="#d" x="141.5" y="444.6"/>
<use href="#d" x="140.4" y="447.5"/>
<use href="#d" x="147.1" y="445.4"/>
<use href="#d" x="163.1" y="442.4"/>
<use href="#d" x="166.1" y="444.2"/>
<use href="#d" x="169.6" y="441.7"/>
<use href="#d" x="173.7" y="439.8"/>
<use href="#d" x="178.3" y="442.3"/>
<use href="#d" x="181.2" y="444.3"/>
<use href="#d" x="184.7" y="442.4"/>
<use href="#d" x="117.0" y="448.6"/>
<use href="#d" x="113.5" y="446.6"/>
<use href="#d" x="119.9" y="450.7"/>
<use href="#d" x="112.3" y="452.1"/>
<use href="#d" x="127.5" y="450.8"/>
<use href="#d" x="166.1" y="446.1"/>
<use href="#d" x="168.4" y="443.8"/>
<use href="#d" x="171.3" y="447.2"/>
<use href="#d" x="174.2" y="444.0"/>
<use href="#d" x="180.1" y="444.8"/>
<use href="#d" x="180.6" y="445.5"/>
<use href="#d" x="184.2" y="443.7"/>
<use href="#d" x="167.2" y="452.0"/>
<use href="#d" x="170.7" y="451.7"/>
<use href="#d" x="173.7" y="454.6"/>
<use href="#d" x="175.4" y="451.3"/>
<use href="#d" x="173.7" y="456.7"/>
<use href="#d" x="177.2" y="463.3"/>
<use href="#d" x="180.1" y="465.3"/>
<use href="#d" x="183.0" y="459.8"/>
<use href="#d" x="184.7" y="464.2"/>
<use href="#d" x="180.1" y="469.9"/>
<use href="#d" x="183.0" y="468.3"/>
<use href="#d" x="185.3" y="471.9"/>
<use href="#d" x="186.5" y="461.9"/>
<use href="#d" x="178.1" y="479.8"/>
<use href="#d" x="173.7" y="483.8"/>
<use href="#d" x="119.5" y="484.8"/>
<use href="#d" x="119.8" y="489.4"/>
<use href="#d" x="125.2" y="487.7"/>
<use href="#d" x="135.1" y="483.9"/>
<use href="#d" x="138.0" y="488.6"/>
<use href="#d" x="135.7" y="479.6"/>
<use href="#d" x="142.1" y="479.9"/>
<use href="#d" x="156.7" y="474.9"/>
<use href="#d" x="162.6" y="472.4"/>
<use href="#d" x="166.6" y="469.1"/>
<use href="#d" x="163.7" y="466.4"/>
<use href="#d" x="161.4" y="458.5"/>
<use href="#d" x="157.9" y="456.5"/>
<use href="#d" x="153.2" y="451.9"/>
<use href="#d" x="150.9" y="466.5"/>
<use href="#d" x="150.3" y="471.6"/>
<use href="#d" x="154.4" y="462.6"/>
<use href="#d" x="157.9" y="467.5"/>
<use href="#d" x="159.1" y="462.3"/>
<use href="#d" x="145.0" y="471.2"/>
<use href="#d" x="145.0" y="474.1"/>
<use href="#d" x="77.2" y="419.5"/>
<use href="#d" x="79.4" y="417.2"/>
<use href="#d" x="78.1" y="422.5"/>
<use href="#d" x="80.8" y="415.8"/>
<use href="#d" x="78.5" y="428.2"/>
<use href="#d" x="79.9" y="427.3"/>
<use href="#d" x="83.4" y="421.8"/>
<use href="#d" x="86.6" y="418.1"/>
<use href="#d" x="91.0" y="412.3"/>
<use href="#d" x="88.4" y="418.7"/>
<use href="#d" x="83.9" y="427.2"/>
<use href="#d" x="84.8" y="427.5"/>
<use href="#d" x="91.9" y="418.6"/>
<use href="#d" x="96.4" y="412.9"/>
<use href="#d" x="100.0" y="412.2"/>
<use href="#d" x="92.8" y="421.3"/>
<use href="#d" x="97.3" y="416.8"/>
<use href="#d" x="102.7" y="414.2"/>
<use href="#d" x="104.5" y="415.2"/>
<use href="#d" x="89.2" y="429.2"/>
<use href="#d" x="92.8" y="424.0"/>
<use href="#d" x="97.3" y="423.3"/>
<use href="#d" x="101.8" y="421.4"/>
<use href="#d" x="76.7" y="450.0"/>
<use href="#d" x="78.5" y="446.5"/>
<use href="#d" x="84.8" y="493.7"/>
<use href="#d" x="76.3" y="485.3"/>
<use href="#d" x="98.6" y="486.1"/>
<use href="#d" x="104.9" y="485.6"/>
<use href="#d" x="89.2" y="485.1"/>
<use href="#d" x="89.6" y="483.8"/>
<use href="#d" x="107.6" y="480.5"/>
<use href="#d" x="93.3" y="479.9"/>
<use href="#d" x="79.4" y="478.6"/>
<use href="#d" x="114.3" y="464.9"/>
<use href="#d" x="117.9" y="478.3"/>
<use href="#d" x="81.8" y="473.4"/>
<use href="#d" x="78.5" y="453.5"/>
<use href="#d" x="76.9" y="476.9"/>
<use href="#d" x="77.7" y="454.7"/>
<use href="#d" x="76.5" y="475.4"/>
<use href="#d" x="81.5" y="446.0"/>
<use href="#d" x="76.6" y="479.5"/>
<use href="#d" x="81.4" y="452.0"/>
<use href="#d" x="79.7" y="471.7"/>
<use href="#d" x="76.4" y="477.3"/>
<use href="#d" x="77.6" y="474.6"/>
<use href="#d" x="103.5" y="444.6"/>
<use href="#d" x="98.0" y="444.2"/>
<use href="#d" x="94.7" y="451.3"/>
<use href="#d" x="100.4" y="450.0"/>
<use href="#d" x="94.9" y="476.8"/>
<use href="#d" x="87.1" y="480.9"/>
<use href="#d" x="93.8" y="456.8"/>
<use href="#d" x="99.8" y="461.3"/>
<use href="#d" x="93.6" y="427.6"/>
<use href="#d" x="101.9" y="460.7"/>
<use href="#d" x="101.1" y="426.4"/>
<use href="#d" x="98.6" y="441.0"/>
<use href="#d" x="105.8" y="455.7"/>
<use href="#d" x="105.6" y="430.1"/>
<use href="#d" x="95.0" y="478.3"/>
<use href="#d" x="95.6" y="435.6"/>
<use href="#d" x="91.1" y="449.6"/>
<use href="#d" x="86.6" y="460.4"/>
<use href="#d" x="94.5" y="480.7"/>
<use href="#d" x="104.3" y="459.9"/>
<use href="#d" x="94.9" y="480.9"/>
<use href="#d" x="106.8" y="470.8"/>
<use href="#d" x="89.7" y="462.3"/>
<use href="#d" x="104.3" y="474.4"/>
<use href="#d" x="86.1" y="476.1"/>
<use href="#d" x="83.9" y="459.3"/>
<use href="#d" x="104.8" y="452.7"/>
<use href="#d" x="98.8" y="476.4"/>
<use href="#d" x="105.0" y="477.6"/>
<use href="#d" x="82.2" y="464.7"/>
<use href="#d" x="95.0" y="430.3"/>
<use href="#d" x="108.4" y="428.7"/>
<use href="#d" x="100.5" y="432.6"/>
<use href="#d" x="106.0" y="422.6"/>
<use href="#d" x="89.7" y="442.1"/>
<use href="#d" x="87.5" y="461.5"/>
<use href="#d" x="86.7" y="476.2"/>
<use href="#d" x="104.6" y="461.8"/>
<use href="#d" x="86.6" y="436.5"/>
<use href="#d" x="104.6" y="424.0"/>
<use href="#d" x="92.1" y="432.9"/>
<use href="#d" x="82.6" y="470.3"/>
<use href="#d" x="101.5" y="453.6"/>
<use href="#d" x="85.8" y="456.0"/>
<use href="#d" x="109.8" y="436.9"/>
<use href="#d" x="107.9" y="454.1"/>
<use href="#d" x="82.7" y="455.5"/>
<use href="#d" x="89.8" y="438.8"/>
<use href="#d" x="84.0" y="459.5"/>
<use href="#d" x="93.7" y="440.0"/>
<use href="#d" x="96.6" y="463.2"/>
<use href="#d" x="90.9" y="479.1"/>
<use href="#d" x="86.5" y="446.5"/>
<use href="#d" x="91.9" y="454.5"/>
<use href="#d" x="105.2" y="428.5"/>
<use href="#d" x="88.5" y="461.5"/>
<use href="#d" x="89.7" y="464.0"/>
<use href="#d" x="107.8" y="448.3"/>
<use href="#d" x="100.2" y="466.4"/>
<use href="#d" x="108.5" y="465.0"/>
<use href="#d" x="90.1" y="475.2"/>
<use href="#d" x="101.9" y="470.4"/>
<use href="#d" x="108.8" y="451.3"/>
<use href="#d" x="104.9" y="468.3"/>
<use href="#d" x="103.3" y="435.3"/>
<use href="#d" x="88.9" y="470.7"/>
<use href="#d" x="94.9" y="457.6"/>
<use href="#d" x="84.9" y="478.5"/>
<use href="#d" x="104.9" y="467.8"/>
<use href="#d" x="98.3" y="445.0"/>
<use href="#d" x="96.4" y="469.9"/>
<use href="#d" x="90.7" y="480.3"/>
<use href="#d" x="97.2" y="457.5"/>
<use href="#d" x="98.8" y="448.3"/>
<use href="#d" x="109.6" y="427.3"/>
<use href="#d" x="102.5" y="449.1"/>
<use href="#d" x="100.0" y="447.1"/>
<use href="#d" x="83.7" y="452.8"/>
<use href="#d" x="109.1" y="449.7"/>
<use href="#d" x="86.5" y="453.2"/>
<use href="#d" x="92.0" y="478.4"/>
<use href="#d" x="96.7" y="431.8"/>
<use href="#d" x="86.2" y="444.9"/>
<use href="#d" x="83.5" y="441.2"/>
<use href="#d" x="108.6" y="425.8"/>
<use href="#d" x="85.3" y="449.2"/>
<use href="#d" x="83.3" y="461.7"/>
<use href="#d" x="105.0" y="466.2"/>
<use href="#d" x="102.1" y="429.1"/>
<use href="#d" x="95.6" y="461.5"/>
<use href="#d" x="105.3" y="438.2"/>
<use href="#d" x="100.6" y="450.1"/>
<use href="#d" x="103.7" y="435.7"/>
<use href="#d" x="84.9" y="449.5"/>
<use href="#d" x="108.2" y="443.1"/>
<use href="#d" x="107.0" y="459.3"/>
<use href="#d" x="82.2" y="479.4"/>
<use href="#d" x="86.6" y="455.9"/>
<use href="#d" x="108.7" y="456.0"/>
<use href="#d" x="100.4" y="477.0"/>
<use href="#d" x="107.6" y="431.1"/>
<use href="#d" x="89.9" y="479.7"/>
<use href="#d" x="82.8" y="469.5"/>
<use href="#d" x="104.2" y="475.8"/>
<use href="#d" x="95.9" y="437.1"/>
<use href="#d" x="89.2" y="446.9"/>
<use href="#d" x="86.1" y="468.7"/>
<use href="#d" x="93.2" y="452.3"/>
<use href="#d" x="94.9" y="445.7"/>
<use href="#d" x="82.1" y="467.7"/>
<use href="#d" x="89.7" y="460.6"/>
<use href="#d" x="100.0" y="443.6"/>
<use href="#d" x="91.6" y="477.2"/>
<use href="#d" x="105.5" y="447.4"/>
<use href="#d" x="109.7" y="466.4"/>
<use href="#d" x="96.0" y="476.1"/>
<use href="#d" x="93.9" y="476.6"/>
<use href="#d" x="97.2" y="442.1"/>
<use href="#d" x="104.6" y="457.0"/>
<use href="#d" x="91.8" y="454.4"/>
<use href="#d" x="106.0" y="437.0"/>
<use href="#d" x="91.8" y="467.5"/>
<use href="#d" x="109.8" y="439.9"/>
<use href="#d" x="87.4" y="464.6"/>
<use href="#d" x="97.6" y="471.6"/>
<use href="#d" x="85.0" y="476.1"/>
<use href="#d" x="89.6" y="452.2"/>
<use href="#d" x="98.9" y="449.3"/>
<use href="#d" x="142.9" y="444.3"/>
<use href="#d" x="119.9" y="460.6"/>
<use href="#d" x="118.7" y="471.2"/>
<use href="#d" x="118.9" y="471.8"/>
<use href="#d" x="114.0" y="452.8"/>
<use href="#d" x="126.5" y="474.9"/>
<use href="#d" x="125.5" y="453.2"/>
<use href="#d" x="123.8" y="450.8"/>
<use href="#d" x="126.4" y="477.9"/>
<use href="#d" x="130.8" y="467.7"/>
<use href="#d" x="124.7" y="466.3"/>
<use href="#d" x="143.1" y="443.5"/>
<use href="#d" x="130.2" y="458.8"/>
<use href="#d" x="113.6" y="462.9"/>
<use href="#d" x="113.0" y="454.4"/>
<use href="#d" x="137.9" y="441.4"/>
<use href="#d" x="116.6" y="442.3"/>
<use href="#d" x="113.9" y="447.1"/>
<use href="#d" x="118.2" y="454.5"/>
<use href="#d" x="148.4" y="468.8"/>
<use href="#d" x="124.7" y="465.1"/>
<use href="#d" x="120.9" y="472.0"/>
<use href="#d" x="139.0" y="466.3"/>
<use href="#d" x="142.8" y="442.9"/>
<use href="#d" x="116.0" y="467.8"/>
<use href="#d" x="135.2" y="456.5"/>
<use href="#d" x="148.6" y="463.9"/>
<use href="#d" x="115.2" y="461.8"/>
<use href="#d" x="129.5" y="465.1"/>
<use href="#d" x="111.6" y="459.0"/>
<use href="#d" x="146.7" y="469.8"/>
<use href="#d" x="125.0" y="445.8"/>
<use href="#d" x="134.3" y="455.8"/>
<use href="#d" x="148.8" y="466.9"/>
<use href="#d" x="134.7" y="475.4"/>
<use href="#d" x="147.1" y="463.0"/>
<use href="#d" x="133.3" y="450.5"/>
<use href="#d" x="119.7" y="468.8"/>
<use href="#d" x="119.2" y="442.2"/>
<use href="#d" x="138.1" y="474.2"/>
<use href="#d" x="145.7" y="440.3"/>
<use href="#d" x="146.3" y="440.5"/>
<use href="#d" x="141.0" y="437.4"/>
<use href="#d" x="115.4" y="447.3"/>
<use href="#d" x="121.8" y="461.3"/>
<use href="#d" x="146.4" y="461.2"/>
<use href="#d" x="115.0" y="456.1"/>
<use href="#d" x="110.3" y="444.1"/>
<use href="#d" x="127.2" y="467.3"/>
<use href="#d" x="120.0" y="461.1"/>
<use href="#d" x="114.1" y="476.8"/>
<use href="#d" x="125.7" y="448.1"/>
<use href="#d" x="129.9" y="450.0"/>
<use href="#d" x="121.7" y="446.8"/>
<use href="#d" x="141.2" y="452.6"/>
<use href="#d" x="148.2" y="459.3"/>
<use href="#d" x="116.2" y="479.1"/>
<use href="#d" x="144.4" y="453.8"/>
<use href="#d" x="128.2" y="473.2"/>
<use href="#d" x="128.0" y="467.6"/>
<use href="#d" x="117.8" y="457.8"/>
<use href="#d" x="116.1" y="444.0"/>
<use href="#d" x="112.7" y="465.1"/>
<use href="#d" x="141.7" y="449.4"/>
<use href="#d" x="129.1" y="467.3"/>
<use href="#d" x="143.5" y="445.7"/>
<use href="#d" x="110.6" y="469.2"/>
<use href="#d" x="124.2" y="455.6"/>
<use href="#d" x="113.4" y="471.0"/>
<use href="#d" x="111.7" y="478.3"/>
<use href="#d" x="135.3" y="441.3"/>
<use href="#d" x="136.8" y="451.6"/>
<use href="#d" x="143.3" y="438.1"/>
<use href="#d" x="123.0" y="476.9"/>
<use href="#d" x="116.2" y="475.9"/>
<use href="#d" x="145.0" y="460.0"/>
<use href="#d" x="115.7" y="455.3"/>
<use href="#d" x="125.6" y="442.2"/>
<use href="#d" x="138.3" y="440.5"/>
<use href="#d" x="142.2" y="451.0"/>
<use href="#d" x="134.8" y="452.4"/>
<use href="#d" x="132.6" y="448.1"/>
<use href="#d" x="142.0" y="440.8"/>
<use href="#d" x="126.4" y="470.8"/>
<use href="#d" x="137.9" y="446.2"/>
<use href="#d" x="116.1" y="444.6"/>
<use href="#d" x="132.9" y="448.3"/>
<use href="#d" x="145.2" y="442.8"/>
<use href="#d" x="123.3" y="462.6"/>
<use href="#d" x="125.3" y="462.4"/>
<use href="#d" x="122.2" y="458.7"/>
<use href="#d" x="125.6" y="447.6"/>
<use href="#d" x="135.2" y="460.0"/>
<use href="#d" x="119.2" y="453.7"/>
<use href="#d" x="141.3" y="468.7"/>
<use href="#d" x="110.4" y="475.7"/>
<use href="#d" x="121.4" y="458.6"/>
<use href="#d" x="116.2" y="470.8"/>
<use href="#d" x="125.5" y="447.1"/>
<use href="#d" x="125.3" y="441.9"/>
<use href="#d" x="122.1" y="474.4"/>
<use href="#d" x="131.4" y="454.9"/>
<use href="#d" x="143.4" y="444.2"/>
<use href="#d" x="119.6" y="480.3"/>
<use href="#d" x="113.2" y="470.2"/>
<use href="#d" x="136.3" y="449.1"/>
<use href="#d" x="123.1" y="470.0"/>
<use href="#d" x="133.6" y="446.3"/>
<use href="#d" x="118.1" y="465.7"/>
<use href="#d" x="130.7" y="471.6"/>
<use href="#d" x="145.4" y="454.9"/>
<use href="#d" x="143.1" y="466.3"/>
<use href="#d" x="120.4" y="449.8"/>
<use href="#d" x="140.6" y="473.1"/>
<use href="#d" x="112.8" y="473.2"/>
<use href="#d" x="150.8" y="465.8"/>
<use href="#d" x="152.8" y="449.7"/>
<use href="#d" x="164.3" y="463.4"/>
<use href="#d" x="165.8" y="461.4"/>
<use href="#d" x="153.9" y="461.1"/>
<use href="#d" x="152.5" y="471.1"/>
<use href="#d" x="157.8" y="467.2"/>
<use href="#d" x="165.9" y="465.7"/>
<use href="#d" x="162.6" y="455.9"/>
<use href="#d" x="156.7" y="449.4"/>
<use href="#d" x="154.2" y="450.5"/>
<use href="#d" x="166.4" y="446.4"/>
<use href="#d" x="162.4" y="452.7"/>
<use href="#d" x="161.5" y="464.1"/>
<use href="#d" x="156.2" y="448.8"/>
<use href="#d" x="93.5" y="416.7"/>
<use href="#d" x="83.7" y="416.1"/>
<use href="#d" x="78.8" y="420.3"/>
<use href="#d" x="79.5" y="427.0"/>
<use href="#d" x="91.6" y="426.3"/>
<use href="#d" x="92.0" y="422.0"/>
<use href="#d" x="80.6" y="430.2"/>
<use href="#d" x="75.1" y="422.7"/>
<use href="#d" x="90.9" y="431.1"/>
<use href="#d" x="84.1" y="412.7"/>
<use href="#d" x="82.5" y="413.8"/>
<use href="#d" x="103.1" y="299.4"/>
<use href="#d" x="87.6" y="305.4"/>
<use href="#d" x="115.9" y="313.0"/>
<use href="#d" x="114.5" y="329.6"/>
<use href="#d" x="108.6" y="333.7"/>
<use href="#d" x="90.5" y="337.5"/>
<use href="#d" x="113.1" y="340.8"/>
<use href="#d" x="107.5" y="343.4"/>
<use href="#d" x="84.7" y="345.5"/>
<use href="#d" x="87.0" y="346.0"/>
<use href="#d" x="96.1" y="346.9"/>
<use href="#d" x="84.7" y="349.5"/>
<use href="#d" x="130.8" y="351.5"/>
<use href="#d" x="82.9" y="355.4"/>
<use href="#d" x="89.9" y="355.7"/>
<use href="#d" x="109.2" y="356.2"/>
<use href="#d" x="79.4" y="359.9"/>
<use href="#d" x="85.3" y="361.1"/>
<use href="#d" x="87.6" y="358.8"/>
<use href="#d" x="95.2" y="359.6"/>
<use href="#d" x="139.6" y="360.7"/>
<use href="#d" x="144.2" y="362.2"/>
<use href="#d" x="141.7" y="364.8"/>
<use href="#d" x="110.6" y="367.5"/>
<use href="#d" x="115.6" y="367.3"/>
<use href="#d" x="123.2" y="373.4"/>
<use href="#d" x="127.3" y="374.3"/>
<use href="#d" x="104.5" y="372.8"/>
<use href="#d" x="106.3" y="376.3"/>
<use href="#d" x="108.0" y="378.6"/>
<use href="#d" x="109.8" y="380.6"/>
<use href="#d" x="79.4" y="374.5"/>
<use href="#d" x="89.4" y="376.3"/>
<use href="#d" x="89.9" y="376.9"/>
<use href="#d" x="97.5" y="379.2"/>
<use href="#d" x="95.2" y="383.3"/>
<use href="#d" x="101.6" y="383.1"/>
<use href="#d" x="79.4" y="380.9"/>
<use href="#d" x="82.9" y="382.7"/>
<use href="#d" x="142.5" y="380.0"/>
<use href="#d" x="74.8" y="387.4"/>
<use href="#d" x="80.0" y="387.4"/>
<use href="#d" x="82.4" y="389.7"/>
<use href="#d" x="106.9" y="387.4"/>
<use href="#d" x="110.4" y="392.0"/>
<use href="#d" x="119.1" y="391.5"/>
<use href="#d" x="102.2" y="392.0"/>
<use href="#d" x="98.1" y="393.4"/>
<use href="#d" x="92.3" y="391.5"/>
<use href="#d" x="89.4" y="390.3"/>
<use href="#d" x="85.3" y="392.6"/>
<use href="#d" x="87.0" y="388.0"/>
<use href="#d" x="132.5" y="388.8"/>
<use href="#d" x="135.4" y="389.7"/>
<use href="#d" x="123.8" y="395.0"/>
<use href="#d" x="126.7" y="396.7"/>
<use href="#d" x="119.1" y="399.6"/>
<use href="#d" x="77.1" y="396.1"/>
<use href="#d" x="77.8" y="396.8"/>
<use href="#d" x="80.0" y="396.7"/>
<use href="#d" x="84.7" y="396.7"/>
<use href="#d" x="88.2" y="396.1"/>
<use href="#d" x="86.4" y="399.1"/>
<use href="#d" x="90.5" y="397.9"/>
<use href="#d" x="81.2" y="400.2"/>
<use href="#d" x="103.4" y="401.4"/>
<use href="#d" x="96.4" y="403.7"/>
<use href="#d" x="109.2" y="406.6"/>
<use href="#d" x="108.0" y="407.2"/>
<use href="#d" x="123.8" y="403.1"/>
<use href="#d" x="126.7" y="404.3"/>
<use href="#d" x="126.1" y="407.8"/>
<use href="#d" x="140.9" y="407.0"/>
<use href="#d" x="134.2" y="410.7"/>
<use href="#d" x="130.2" y="410.1"/>
<use href="#d" x="84.7" y="403.7"/>
<use href="#d" x="88.2" y="404.9"/>
<use href="#d" x="91.1" y="407.2"/>
<use href="#d" x="87.0" y="408.4"/>
<use href="#d" x="83.5" y="407.2"/>
<use href="#d" x="79.4" y="410.7"/>
<use href="#d" x="94.0" y="409.6"/>
<use href="#d" x="149.0" y="315.4"/>
<use href="#d" x="180.2" y="346.3"/>
<use href="#d" x="161.2" y="359.1"/>
<use href="#d" x="181.4" y="362.0"/>
<use href="#d" x="155.5" y="374.5"/>
<use href="#d" x="164.2" y="374.8"/>
<use href="#d" x="150.8" y="378.4"/>
<use href="#d" x="170.1" y="383.6"/>
<use href="#d" x="152.8" y="388.2"/>
<use href="#d" x="156.3" y="398.5"/>
<use href="#d" x="162.1" y="404.3"/>
<use href="#d" x="151.6" y="405.5"/>
<use href="#d" x="168.3" y="406.6"/>
<use href="#d" x="145.8" y="409.0"/>
</g>
<path d="M69.8,183.46 h12.6 M669.2,183.46 h-12.6" stroke="#000" stroke-width="1.8"/>
<path d="M69.8,140.72 h12.6 M669.2,140.72 h-12.6" stroke="#000" stroke-width="1.8"/>
<path d="M69.8,97.98 h12.6 M669.2,97.98 h-12.6" stroke="#000" stroke-width="1.8"/>
<path d="M69.8,55.24 h12.6 M669.2,55.24 h-12.6" stroke="#000" stroke-width="1.8"/>
<path d="M219.65,12.5 v5.3 M219.65,226.2 v-5.3" stroke="#000" stroke-width="2"/>
<path d="M369.50,12.5 v5.3 M369.50,226.2 v-5.3" stroke="#000" stroke-width="2"/>
<path d="M519.35,12.5 v5.3 M519.35,226.2 v-5.3" stroke="#000" stroke-width="2"/>
<rect x="69.8" y="12.5" width="599.4000000000001" height="213.7" fill="none" stroke="#000" stroke-width="2.1"/>
<path d="M69.8,472.12 h12.6 M669.2,472.12 h-12.6" stroke="#000" stroke-width="1.8"/>
<path d="M69.8,436.53 h12.6 M669.2,436.53 h-12.6" stroke="#000" stroke-width="1.8"/>
<path d="M69.8,400.95 h12.6 M669.2,400.95 h-12.6" stroke="#000" stroke-width="1.8"/>
<path d="M69.8,365.37 h12.6 M669.2,365.37 h-12.6" stroke="#000" stroke-width="1.8"/>
<path d="M69.8,329.78 h12.6 M669.2,329.78 h-12.6" stroke="#000" stroke-width="1.8"/>
<path d="M219.65,294.2 v5.3 M219.65,507.7 v-5.3" stroke="#000" stroke-width="2"/>
<path d="M369.50,294.2 v5.3 M369.50,507.7 v-5.3" stroke="#000" stroke-width="2"/>
<path d="M519.35,294.2 v5.3 M519.35,507.7 v-5.3" stroke="#000" stroke-width="2"/>
<rect x="69.8" y="294.2" width="599.4000000000001" height="213.5" fill="none" stroke="#000" stroke-width="2.1"/>
<text x="70.1" y="245.8" font-size="17" text-anchor="middle" >0</text>
<text x="70.1" y="527.0" font-size="17" text-anchor="middle" >0</text>
<text x="220.0" y="245.8" font-size="17" text-anchor="middle" >5</text>
<text x="220.0" y="527.0" font-size="17" text-anchor="middle" >5</text>
<text x="369.8" y="245.8" font-size="17" text-anchor="middle" >10</text>
<text x="369.8" y="527.0" font-size="17" text-anchor="middle" >10</text>
<text x="519.6" y="245.8" font-size="17" text-anchor="middle" >15</text>
<text x="519.6" y="527.0" font-size="17" text-anchor="middle" >15</text>
<text x="669.5" y="245.8" font-size="17" text-anchor="middle" >20</text>
<text x="669.5" y="527.0" font-size="17" text-anchor="middle" >20</text>
<text x="61.0" y="233.1" font-size="17" text-anchor="end" >0</text>
<text x="61.0" y="190.4" font-size="17" text-anchor="end" >5</text>
<text x="61.0" y="147.6" font-size="17" text-anchor="end" >10</text>
<text x="61.0" y="104.9" font-size="17" text-anchor="end" >15</text>
<text x="61.0" y="62.1" font-size="17" text-anchor="end" >20</text>
<text x="61.0" y="19.4" font-size="17" text-anchor="end" >25</text>
<text x="61.0" y="514.6" font-size="17" text-anchor="end" >0.0</text>
<text x="61.0" y="479.0" font-size="17" text-anchor="end" >0.5</text>
<text x="61.0" y="443.4" font-size="17" text-anchor="end" >1.0</text>
<text x="61.0" y="407.8" font-size="17" text-anchor="end" >1.5</text>
<text x="61.0" y="372.3" font-size="17" text-anchor="end" >2.0</text>
<text x="61.0" y="336.7" font-size="17" text-anchor="end" >2.5</text>
<text x="61.0" y="301.1" font-size="17" text-anchor="end" >3.0</text>
<text x="0.8" y="23.6" font-size="21" text-anchor="start" >(a)</text>
<text x="0.8" y="278.3" font-size="21" text-anchor="start" >(b)</text>
<text x="302" y="270.2" font-size="17">A<tspan font-size="11.9" dy="5.0">CH</tspan><tspan dy="-5.0"> [ 10</tspan><tspan font-size="11.9" dy="-9.0">10</tspan><tspan dy="9.0"> km</tspan><tspan font-size="11.9" dy="-9.0">2</tspan><tspan dy="9.0"> ]</tspan></text>
<text x="307.5" y="551.8" font-size="17">A<tspan font-size="11.9" dy="5.0">CH</tspan><tspan dy="-5.0"> [10</tspan><tspan font-size="11.9" dy="-9.0">10</tspan><tspan dy="9.0"> km</tspan><tspan font-size="11.9" dy="-9.0">2</tspan><tspan dy="9.0">]</tspan></text>
<text transform="translate(23.6,143) rotate(-90) scale(0.895,1.05)" font-size="17"><tspan font-style="italic">ε</tspan><tspan font-size="11.9" dy="4.2">A</tspan><tspan dy="-5.0"> [%]</tspan></text>
<text transform="translate(19.2,405.6) rotate(-90) scale(0.7,0.92)" font-size="17" font-style="italic" fill="#222">ζ</text>
</svg>
</body></html>
